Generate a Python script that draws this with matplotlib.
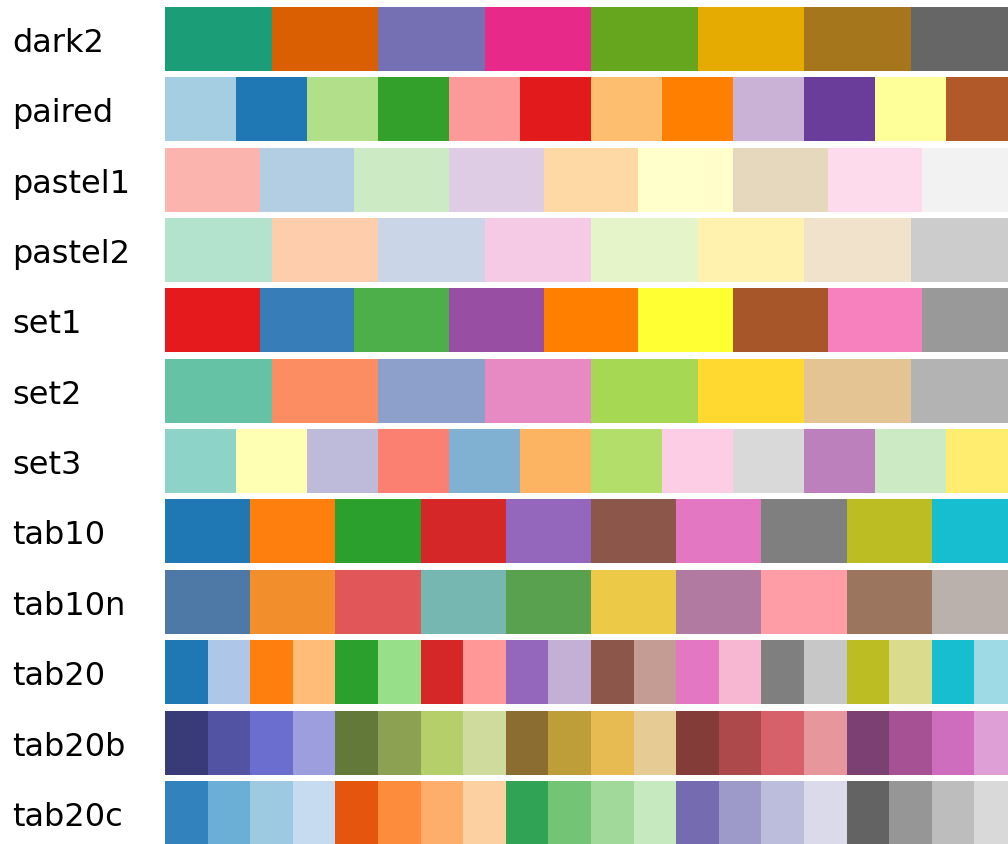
import matplotlib
matplotlib.use("Agg")
import matplotlib.pyplot as plt
import matplotlib.transforms as mtransforms

palette_names = ["dark2", "paired", "pastel1", "pastel2", "set1", "set2",
                 "set3", "tab10", "tab10n", "tab20", "tab20b", "tab20c"]

dark2 = ["#1b9e77", "#d95f02", "#7570b3", "#e7298a", "#66a61e", "#e6ab02", "#a6761d", "#666666"]
paired = ["#a6cee3", "#1f78b4", "#b2df8a", "#33a02c", "#fb9a99", "#e31a1c",
          "#fdbf6f", "#ff7f00", "#cab2d6", "#6a3d9a", "#ffff99", "#b15928"]
pastel1 = ["#fbb4ae", "#b3cde3", "#ccebc5", "#decbe4", "#fed9a6", "#ffffcc",
           "#e5d8bd", "#fddaec", "#f2f2f2"]
pastel2 = ["#b3e2cd", "#fdcdac", "#cbd5e8", "#f4cae4", "#e6f5c9", "#fff2ae", "#f1e2cc", "#cccccc"]
set1 = ["#e41a1c", "#377eb8", "#4daf4a", "#984ea3", "#ff7f00", "#ffff33",
        "#a65628", "#f781bf", "#999999"]
set2 = ["#66c2a5", "#fc8d62", "#8da0cb", "#e78ac3", "#a6d854", "#ffd92f", "#e5c494", "#b3b3b3"]
set3 = ["#8dd3c7", "#ffffb3", "#bebada", "#fb8072", "#80b1d3", "#fdb462",
        "#b3de69", "#fccde5", "#d9d9d9", "#bc80bd", "#ccebc5", "#ffed6f"]
tab10 = ["#1f77b4", "#ff7f0e", "#2ca02c", "#d62728", "#9467bd", "#8c564b",
         "#e377c2", "#7f7f7f", "#bcbd22", "#17becf"]
tab10n = ["#4e79a7", "#f28e2b", "#e15759", "#76b7b2", "#59a14f", "#edc948",
          "#b07aa1", "#ff9da7", "#9c755f", "#bab0ac"]
tab20 = ["#1f77b4", "#aec7e8", "#ff7f0e", "#ffbb78", "#2ca02c", "#98df8a",
         "#d62728", "#ff9896", "#9467bd", "#c5b0d5", "#8c564b", "#c49c94",
         "#e377c2", "#f7b6d2", "#7f7f7f", "#c7c7c7", "#bcbd22", "#dbdb8d",
         "#17becf", "#9edae5"]
tab20b = ["#393b79", "#5254a3", "#6b6ecf", "#9c9ede", "#637939", "#8ca252",
          "#b5cf6b", "#cedb9c", "#8c6d31", "#bd9e39", "#e7ba52", "#e7cb94",
          "#843c39", "#ad494a", "#d6616b", "#e7969c", "#7b4173", "#a55194",
          "#ce6dbd", "#de9ed6"]
tab20c = ["#3182bd", "#6baed6", "#9ecae1", "#c6dbef", "#e6550d", "#fd8d3c",
          "#fdae6b", "#fdd0a2", "#31a354", "#74c476", "#a1d99b", "#c7e9c0",
          "#756bb1", "#9e9ac8", "#bcbddc", "#dadaeb", "#636363", "#969696",
          "#bdbdbd", "#d9d9d9"]

palettes = [dark2, paired, pastel1, pastel2, set1, set2, set3,
            tab10, tab10n, tab20, tab20b, tab20c]

W, H = 1008, 844
fig = plt.figure(figsize=(W / 100, H / 100), dpi=100)

pitch = 70.36
top_px = 3.8
n_rows = len(palette_names)
left_px, width_px = 165, 852
ax_h = pitch * n_rows
ax = fig.add_axes([left_px / W, (H - top_px - ax_h) / H, width_px / W, ax_h / H])
ax.set_xlim(0, 1)
ax.set_ylim(n_rows - 0.5, -0.5)
ax.axis("off")

bar_h = 64 / pitch
for i, (name, cols) in enumerate(zip(palette_names, palettes)):
    n = len(cols)
    lefts = [j / n for j in range(n)]
    ax.barh([i] * n, [1 / n] * n, left=lefts, height=bar_h, color=cols,
            linewidth=0, antialiased=False)

trans = mtransforms.blended_transform_factory(ax.transAxes, ax.transData)
for i, name in enumerate(palette_names):
    ax.text((12 - left_px) / width_px, i + 13 / pitch, name, transform=trans,
            ha="left", va="baseline", fontsize=23, family="DejaVu Sans",
            color="black", clip_on=False)

fig.savefig("out.png", dpi=100, facecolor="white")
